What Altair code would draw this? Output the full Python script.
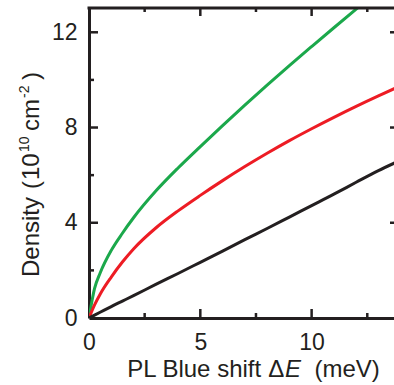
import altair as alt
import pandas as pd

# ---- data ----
shift_mev = [0, 0.25, 0.5, 1, 1.5, 2, 3, 4, 5, 6, 7, 8, 9, 10, 11, 12, 13, 13.75]
green_density = [0, 1.24, 1.89, 2.84, 3.56, 4.21, 5.33, 6.3, 7.2, 8.08, 8.94, 9.78, 10.6, 11.4, 12.19, 12.97, 13.74, 14.31]
red_density = [0, 0.55, 1.0, 1.72, 2.35, 2.9, 3.78, 4.5, 5.15, 5.77, 6.36, 6.92, 7.45, 7.95, 8.43, 8.89, 9.33, 9.65]
black_density = [0, 0.12, 0.24, 0.48, 0.71, 0.94, 1.41, 1.87, 2.34, 2.81, 3.29, 3.76, 4.24, 4.72, 5.2, 5.7, 6.19, 6.52]

series_names = ["green", "red", "black"]
series_colors = ["#1ba84b", "#ed1c24", "#231f20"]

x_labels = [0, 5, 10]
x_minor = [2.5, 7.5, 12.5]
y_labels = [0, 4, 8, 12]
y_minor = [2, 6, 10]

X_MAX = 13.7
Y_MAX = 13.02
W, H = 305, 310
INK = "#231f20"
FONT = "Liberation Sans"

rows = []
for name, vals in zip(series_names, [green_density, red_density, black_density]):
    for xv, yv in zip(shift_mev, vals):
        rows.append({"x": xv, "y": yv, "s": name})
df = pd.DataFrame(rows)

xs = alt.Scale(domain=[0, X_MAX], nice=False, zero=False)
ys = alt.Scale(domain=[0, Y_MAX], nice=False, zero=False)

lines = alt.Chart(df).mark_line(strokeWidth=3, clip=True, interpolate="monotone").encode(
    x=alt.X("x:Q", scale=xs, title=None,
            axis=alt.Axis(values=x_labels, ticks=False, tickSize=0, grid=False,
                          domainColor=INK, domainWidth=3, labelFont=FONT,
                          labelFontSize=23, labelColor=INK, labelPadding=13.5,
                          labelFlush=False)),
    y=alt.Y("y:Q", scale=ys, title=None,
            axis=alt.Axis(values=y_labels, ticks=False, tickSize=0, grid=False,
                          domainColor=INK, domainWidth=3, labelFont=FONT,
                          labelFontSize=23, labelColor=INK, labelPadding=12,
                          labelFlush=False)),
    color=alt.Color("s:N", scale=alt.Scale(domain=series_names, range=series_colors), legend=None),
    detail="s:N",
)

def xticks(vals, y0, y1):
    return alt.Chart(pd.DataFrame({"x": vals})).mark_rule(strokeWidth=2.5, color=INK).encode(
        x=alt.X("x:Q", scale=xs, title=None), y=alt.value(y0), y2=alt.value(y1))

def yticks(vals, x0, x1):
    return alt.Chart(pd.DataFrame({"y": vals})).mark_rule(strokeWidth=2.5, color=INK).encode(
        y=alt.Y("y:Q", scale=ys, title=None), x=alt.value(x0), x2=alt.value(x1))

tick_layers = [
    xticks(x_labels[1:], H, H - 9), xticks(x_minor, H, H - 5),
    xticks(x_labels[1:], 0, 8), xticks(x_minor, 0, 4),
    yticks(y_labels[1:], 0, 9), yticks(y_minor, 0, 5),
    yticks(y_labels[1:], W - 4, W),
]

top_frame = alt.Chart(pd.DataFrame({"a": [0]})).mark_rule(strokeWidth=3, color=INK).encode(
    x=alt.value(-1.5), x2=alt.value(W), y=alt.value(0))

def txt(t, x, y, size=24, angle=0, italic=False):
    kw = dict(align="left", baseline="alphabetic", font=FONT, fontSize=size, color=INK)
    if angle:
        kw["angle"] = angle
    if italic:
        kw["fontStyle"] = "italic"
    return alt.Chart(pd.DataFrame({"t": [t]})).mark_text(**kw).encode(
        x=alt.value(x - 89), y=alt.value(y - 8), text="t:N")

# x title pieces (absolute page coordinates converted inside txt)
xt_base = 376.7
title_layers = [
    txt("PL Blue shift", 127.3, xt_base),
    txt("\u0394", 268.3, xt_base),
    txt("E", 285, xt_base, italic=True),
    txt("(meV)", 314.5, xt_base),
]
# y title pieces, rotated
yb = 39
ysup = 29
title_layers += [
    txt("Density", yb, 277, angle=270),
    txt("(", yb, 189, angle=270),
    txt("10", yb, 180, angle=270),
    txt("10", ysup, 152, size=14, angle=270),
    txt("cm", yb, 131, angle=270),
    txt("-2", ysup, 98, size=14, angle=270),
    txt(")", yb, 80, angle=270),
]

chart = alt.layer(lines, *tick_layers, top_frame, *title_layers).properties(
    width=W, height=H,
    autosize=alt.AutoSizeParams(type="none"),
    padding={"left": 89, "top": 8, "right": 0, "bottom": 67},
).configure_view(stroke=None).configure(background="white")

chart.save("out.html", embed_options={"renderer": "svg", "actions": False})
